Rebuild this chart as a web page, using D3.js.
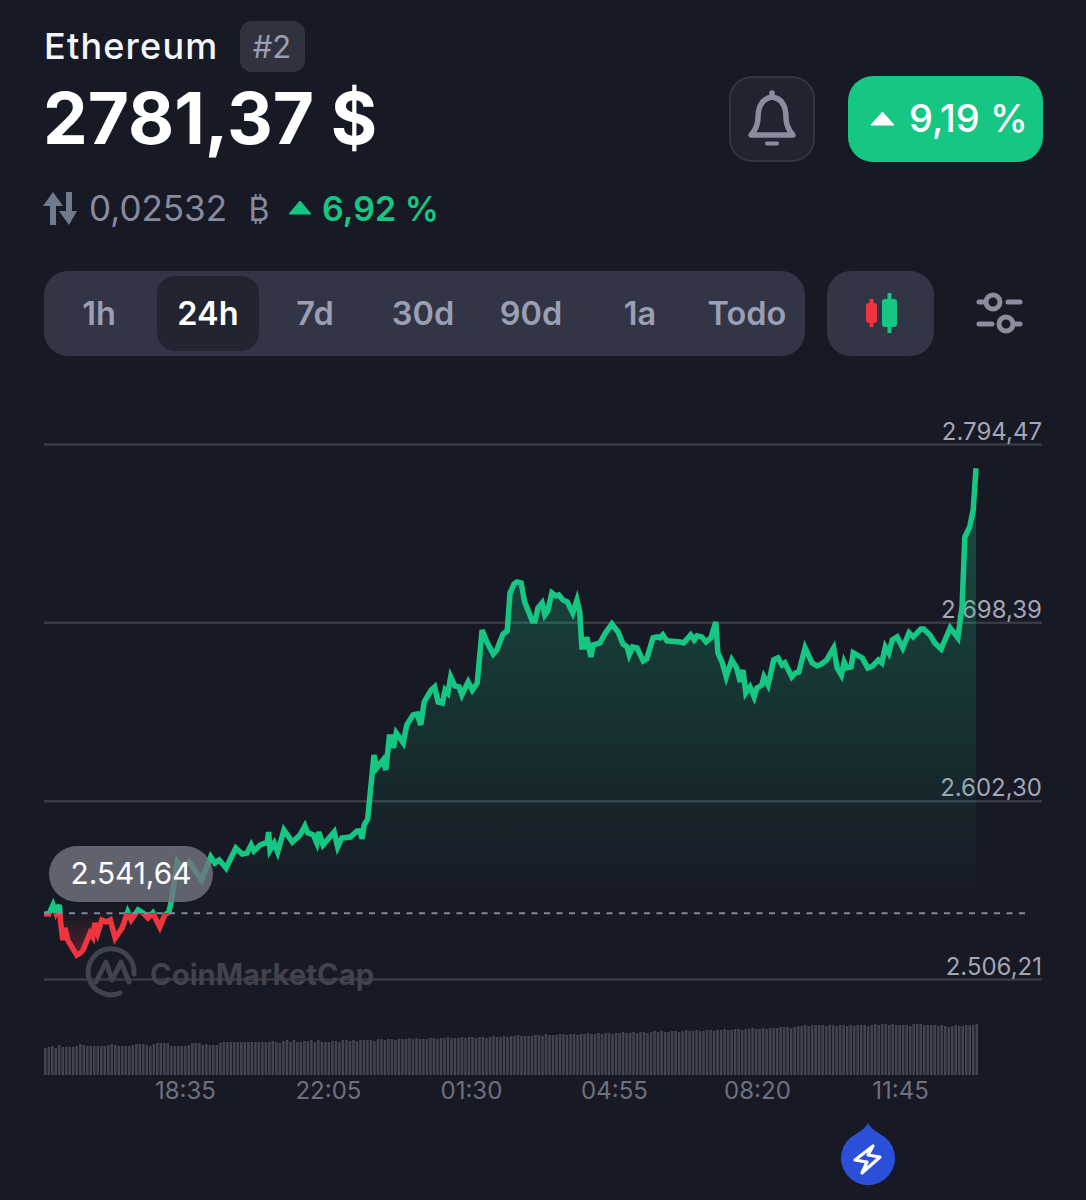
<!DOCTYPE html>
<html>
<head>
<meta charset="utf-8">
<script src="https://cdn.jsdelivr.net/npm/d3@7.9.0/dist/d3.min.js"></script>
<style>
  html, body { margin: 0; background: #171924; }
  svg { display: block; font-family: Inter, "Noto Sans", sans-serif; }
</style>
</head>
<body>
<svg id="chart" width="1086" height="1200"></svg>
<script>
// minutes since the start of the 24h window, and price at that moment
const lineMinutes = [0,7,13,17,22,24,27,30,34,40,47,52,56,66,70,73,77,83,89,95,102,112,120,125,135,142,149,156,166,173,179,182,191,198,208,226,239,245,251,261,275,284,291,297,301,310,320,322,324,330,335,344,356,367,374,378,386,391,394,400,416,421,427,439,449,453,456,459,464,473,477,486,490,495,499,501,505,515,520,529,535,540,545,555,560,565,571,575,579,583,589,595,599,608,614,621,628,635,644,649,658,664,668,674,678,684,689,700,704,708,714,718,722,728,734,738,744,750,758,764,768,771,777,778,784,787,797,804,814,823,830,836,839,844,850,859,864,873,879,883,887,893,912,917,927,932,936,943,949,956,963,966,972,978,986,993,998,1002,1006,1012,1018,1022,1029,1032,1038,1046,1052,1058,1062,1072,1077,1082,1091,1101,1108,1115,1122,1132,1137,1143,1147,1151,1157,1160,1173,1181,1188,1196,1201,1206,1211,1216,1223,1231,1240,1246,1257,1261,1270,1277,1286,1299,1310,1316,1320,1327,1332,1336];
const linePrices = [2541.2,2541.2,2546.1,2541.8,2546.1,2536.4,2527.2,2533.7,2527.2,2523.4,2519.1,2520.2,2521.8,2531.0,2528.8,2536.4,2531.0,2538.0,2536.9,2538.0,2528.3,2533.7,2542.3,2538.0,2543.4,2541.8,2539.1,2541.8,2534.2,2540.7,2542.3,2547.2,2569.3,2566.0,2569.3,2559.6,2572.0,2568.7,2570.3,2566.0,2576.8,2573.6,2574.1,2578.4,2575.2,2578.4,2580.0,2585.4,2575.7,2579.5,2574.6,2586.5,2580.0,2583.8,2588.7,2584.9,2583.8,2579.5,2585.4,2578.4,2585.4,2577.3,2582.2,2582.7,2586.0,2586.0,2581.7,2589.2,2592.4,2626.9,2619.9,2624.2,2618.8,2636.6,2636.6,2630.7,2638.8,2633.4,2643.1,2648.5,2649.0,2643.1,2655.5,2661.9,2663.6,2655.5,2654.9,2661.9,2660.3,2669.0,2664.1,2663.6,2659.3,2666.3,2661.9,2665.7,2694.3,2687.8,2681.3,2683.5,2692.1,2693.7,2714.2,2719.1,2720.1,2719.6,2709.4,2699.1,2699.1,2706.1,2708.8,2702.4,2704.5,2714.2,2712.6,2713.1,2710.4,2709.4,2703.4,2710.4,2704.0,2685.1,2685.1,2690.5,2679.7,2686.2,2687.3,2692.1,2697.5,2693.2,2686.7,2685.1,2680.8,2685.1,2684.6,2677.6,2678.7,2690.0,2690.5,2690.0,2691.6,2688.4,2687.8,2687.3,2691.6,2688.9,2691.1,2690.5,2687.8,2690.0,2698.6,2681.9,2677.0,2669.0,2678.1,2673.8,2666.3,2672.7,2660.3,2663.6,2658.2,2663.0,2664.6,2669.0,2664.6,2678.1,2679.2,2675.4,2676.5,2669.0,2671.1,2671.6,2684.6,2676.5,2674.9,2676.0,2678.1,2684.6,2673.8,2670.0,2677.0,2673.8,2674.3,2681.9,2679.2,2673.8,2674.9,2678.1,2676.5,2685.1,2681.9,2688.9,2690.5,2684.6,2692.7,2690.5,2694.8,2694.8,2691.6,2687.3,2684.0,2695.4,2690.0,2706.7,2744.4,2749.8,2759.0,2781.4];

// relative height of each 5 minute volume bar
const volumes = [
  27,28,29,27,30,28,28,28,28,29,31,30,29,29,29,29,29,29,30,31,
  30,29,29,29,29,30,31,31,31,30,29,31,32,32,32,32,29,29,29,29,
  29,30,32,32,32,30,31,30,30,30,32,33,33,33,33,33,33,33,33,33,
  33,33,33,33,33,34,33,32,34,35,33,35,33,33,34,34,35,33,35,33,
  33,33,34,34,33,35,35,34,35,34,35,35,35,35,34,36,36,35,36,36,
  35,36,36,36,37,36,37,36,36,36,37,37,36,37,37,38,37,37,37,38,
  37,38,38,37,38,38,37,38,39,38,38,39,38,39,39,40,39,39,39,39,
  40,40,39,41,40,40,40,41,41,40,41,41,40,41,41,42,41,41,42,41,
  42,42,41,42,42,43,42,42,43,42,43,43,42,43,44,43,44,43,43,44,
  44,43,44,45,44,44,45,44,44,45,45,44,45,45,46,45,45,46,46,45,
  46,46,47,46,46,47,46,47,47,47,48,48,48,47,48,49,49,50,49,50,
  50,50,50,49,50,50,49,50,50,49,50,49,50,50,50,49,50,51,50,51,
  51,50,51,50,50,50,50,49,51,51,51,50,50,50,50,49,50,49,48,49,
  50,49,49,50,50,50,51
];

const priceTicks = [2794.47, 2698.39, 2602.30, 2506.21];
const timeTicks = [202, 407, 612, 817, 1022, 1227];
const timeLabels = ['18:35', '22:05', '01:30', '04:55', '08:20', '11:45'];
const basePrice = 2541.64;

const ranges = ['1h', '24h', '7d', '30d', '90d', '1a', 'Todo'];
const rangeCenters = [99, 208, 315, 423, 531, 640, 747];
const selectedRange = '24h';

const green = '#16c784';
const red = '#ee3540';
const muted = '#9a9fb3';

const svg = d3.select('#chart');
const defs = svg.append('defs');

const locale = d3.formatLocale({ decimal: ',', thousands: '.', grouping: [3], currency: ['', '$'] });
const fmtPrice = locale.format(',.2f');

const x = d3.scaleLinear().domain([0, 1336]).range([44, 976]);
const y = d3.scaleLinear().domain([2506.21, 2794.47]).range([979, 444]);
const volX = d3.scaleBand().domain(d3.range(volumes.length)).range([44, 978]).paddingInner(0.28);
const volY = d3.scaleLinear().domain([0, 52]).range([1075, 1023]);

const points = lineMinutes.map((m, i) => ({ m, p: linePrices[i] }));

svg.append('rect').attr('width', 1086).attr('height', 1200).attr('fill', '#171924');

// header
svg.append('text').attr('x', 44).attr('y', 59).attr('font-size', 36).attr('font-weight', 500)
  .attr('letter-spacing', 1.2).attr('fill', '#f4f5f8').text('Ethereum');
svg.append('rect').attr('x', 240).attr('y', 21).attr('width', 65).attr('height', 51).attr('rx', 12).attr('fill', '#30333f');
svg.append('text').attr('x', 272).attr('y', 58).attr('text-anchor', 'middle').attr('font-size', 31).attr('fill', '#9a9fb3').text('#2');
svg.append('text').attr('x', 43).attr('y', 144).attr('font-size', 71).attr('font-weight', 700)
  .attr('fill', '#fff').text('2781,37 $');

// btc row
const arrows = svg.append('g').attr('fill', '#6f7a8c').attr('stroke', 'none');
arrows.append('path').attr('d', 'M53 192 L43 206 L50 206 L50 225 L56 225 L56 206 L63 206 Z');
arrows.append('path').attr('d', 'M66 192 L66 211 L59 211 L69 225 L77 211 L72 211 L72 192 Z');
svg.append('text').attr('x', 89).attr('y', 221).attr('font-size', 35).attr('fill', '#868b9f').text('0,02532');
svg.append('text').attr('x', 259).attr('y', 221).attr('text-anchor', 'middle').attr('font-size', 32).attr('fill', '#868b9f').text('₿');
svg.append('path').attr('d', 'M300 201 L311 214 L289 214 Z').attr('fill', green).attr('stroke', green).attr('stroke-width', 1).attr('stroke-linejoin', 'round');
svg.append('text').attr('x', 322).attr('y', 221).attr('font-size', 34).attr('font-weight', 600).attr('fill', green).text('6,92 %');

// bell button
svg.append('rect').attr('x', 730).attr('y', 77).attr('width', 84).attr('height', 84).attr('rx', 22)
  .attr('fill', '#212330').attr('stroke', '#32353f').attr('stroke-width', 2);
svg.append('path')
  .attr('d', 'M751 135 L793 135 Q786 127 786 118 Q786 99 772 97 Q758 99 758 118 Q758 127 751 135 Z M772 97 L772 93')
  .attr('fill', 'none').attr('stroke', '#8a8d9e').attr('stroke-width', 5.5).attr('stroke-linejoin', 'round').attr('stroke-linecap', 'round');
svg.append('line').attr('x1', 767).attr('x2', 777).attr('y1', 143.5).attr('y2', 143.5)
  .attr('stroke', '#8a8d9e').attr('stroke-width', 4).attr('stroke-linecap', 'round');

// change button
svg.append('rect').attr('x', 848).attr('y', 76).attr('width', 195).attr('height', 86).attr('rx', 25).attr('fill', green);
svg.append('path').attr('d', 'M882.5 112 L894 125 L871 125 Z').attr('fill', '#fff').attr('stroke', '#fff').attr('stroke-width', 1).attr('stroke-linejoin', 'round');
svg.append('text').attr('x', 909).attr('y', 132).attr('font-size', 38).attr('font-weight', 500).attr('fill', '#fff').text('9,19 %');

// range tabs
svg.append('rect').attr('x', 44).attr('y', 271).attr('width', 761).attr('height', 85).attr('rx', 24).attr('fill', '#323546');
svg.append('rect').attr('x', 157).attr('y', 276).attr('width', 102).attr('height', 75).attr('rx', 18).attr('fill', '#222531');
svg.selectAll('.range').data(ranges).join('text')
  .attr('class', 'range')
  .attr('x', (d, i) => rangeCenters[i])
  .attr('y', 325)
  .attr('text-anchor', 'middle')
  .attr('font-size', 32.5)
  .attr('font-weight', 600)
  .attr('fill', (d) => (d === selectedRange ? '#fff' : muted))
  .text((d) => d);

// candle toggle
svg.append('rect').attr('x', 827).attr('y', 271).attr('width', 107).attr('height', 85).attr('rx', 24).attr('fill', '#323546');
svg.append('rect').attr('x', 869.5).attr('y', 299).attr('width', 4).attr('height', 28).attr('fill', red);
svg.append('rect').attr('x', 866).attr('y', 303).attr('width', 11).attr('height', 20).attr('rx', 3).attr('fill', red);
svg.append('rect').attr('x', 887.5).attr('y', 293).attr('width', 4).attr('height', 40).attr('fill', green);
svg.append('rect').attr('x', 882).attr('y', 299).attr('width', 15).attr('height', 28).attr('rx', 3).attr('fill', green);

// settings icon
const sliders = svg.append('g').attr('fill', 'none').attr('stroke', '#8a8d9e').attr('stroke-width', 5).attr('stroke-linecap', 'round');
sliders.append('path').attr('d', 'M979 302 L985 302 M1008 302 L1020 302 M979 324 L992 324 M1016 324 L1020 324');
sliders.append('circle').attr('cx', 993).attr('cy', 302).attr('r', 7);
sliders.append('circle').attr('cx', 1006).attr('cy', 324).attr('r', 7);

// price axis with gridlines
const yAxis = svg.append('g').attr('transform', 'translate(44,0)')
  .call(d3.axisRight(y).tickValues(priceTicks).tickSize(998).tickFormat(fmtPrice));
yAxis.select('.domain').remove();
yAxis.selectAll('line').attr('stroke', '#383a46').attr('stroke-width', 2.5);
yAxis.selectAll('text')
  .attr('x', 998).attr('dy', -5).attr('text-anchor', 'end')
  .attr('font-family', 'Inter').attr('font-size', 24).attr('fill', '#a3a6b5');

// watermark
const mark = svg.append('g').attr('fill', 'none').attr('stroke', '#40424d').attr('stroke-width', 5).attr('stroke-linejoin', 'round').attr('stroke-linecap', 'round');
mark.append('path').attr('d', 'M134 974 A23 23 0 1 0 120 993');
mark.append('path').attr('d', 'M96 982 L106 962 L112 980 L121 962 L129 982');
svg.append('text').attr('x', 150).attr('y', 985).attr('font-size', 29.3).attr('font-weight', 700)
  .attr('fill', '#40424d').text('CoinMarketCap');

// area and line, split at the opening price
defs.append('clipPath').attr('id', 'above').append('rect')
  .attr('x', 0).attr('y', 0).attr('width', 1086).attr('height', y(basePrice));
defs.append('clipPath').attr('id', 'below').append('rect')
  .attr('x', 0).attr('y', y(basePrice)).attr('width', 1086).attr('height', 300);

const greenFade = defs.append('linearGradient').attr('id', 'greenFade')
  .attr('gradientUnits', 'userSpaceOnUse').attr('x1', 0).attr('x2', 0).attr('y1', y(2781.4)).attr('y2', y(basePrice) - 10);
greenFade.append('stop').attr('offset', 0).attr('stop-color', green).attr('stop-opacity', 0.32);
greenFade.append('stop').attr('offset', 1).attr('stop-color', green).attr('stop-opacity', 0);
const redFade = defs.append('linearGradient').attr('id', 'redFade')
  .attr('gradientUnits', 'userSpaceOnUse').attr('x1', 0).attr('x2', 0).attr('y1', y(basePrice)).attr('y2', y(2519.1));
redFade.append('stop').attr('offset', 0).attr('stop-color', red).attr('stop-opacity', 0);
redFade.append('stop').attr('offset', 1).attr('stop-color', red).attr('stop-opacity', 0.3);

const area = d3.area().x((d) => x(d.m)).y0(y(basePrice)).y1((d) => y(d.p));
const line = d3.line().x((d) => x(d.m)).y((d) => y(d.p));

svg.append('path').datum(points).attr('d', area).attr('fill', 'url(#greenFade)').attr('clip-path', 'url(#above)');
svg.append('path').datum(points).attr('d', area).attr('fill', 'url(#redFade)').attr('clip-path', 'url(#below)');
svg.append('path').datum(points).attr('d', line).attr('fill', 'none').attr('stroke', green).attr('stroke-width', 5.5).attr('clip-path', 'url(#above)');
svg.append('path').datum(points).attr('d', line).attr('fill', 'none').attr('stroke', red).attr('stroke-width', 5.5).attr('clip-path', 'url(#below)');

// opening price
svg.append('line').attr('x1', 44).attr('x2', 1030).attr('y1', y(basePrice)).attr('y2', y(basePrice))
  .attr('stroke', '#83889a').attr('stroke-width', 2).attr('stroke-dasharray', '6 6.5');

// volume bars
svg.selectAll('.vol').data(volumes).join('rect')
  .attr('class', 'vol')
  .attr('x', (d, i) => volX(i))
  .attr('width', volX.bandwidth())
  .attr('y', (d) => volY(d))
  .attr('height', (d) => volY(0) - volY(d))
  .attr('fill', '#42444f');

// time axis
const xAxis = svg.append('g').attr('transform', 'translate(0,1075)')
  .call(d3.axisBottom(x).tickValues(timeTicks).tickSize(0).tickFormat((d, i) => timeLabels[i]));
xAxis.select('.domain').remove();
xAxis.selectAll('text')
  .attr('y', 24).attr('dy', 0)
  .attr('font-family', 'Inter').attr('font-size', 24).attr('fill', '#6d7080');

// lightning button
svg.append('path')
  .attr('d', 'M868 1123 Q871 1129 880 1134 A27 27 0 1 1 856 1134 Q865 1129 868 1123 Z')
  .attr('fill', '#2b4fd8');
svg.append('path')
  .attr('d', 'M873 1146 L855 1160 L867 1162 L862 1173 L880 1157 L868 1155 Z')
  .attr('fill', 'none').attr('stroke', '#fff').attr('stroke-width', 3.2).attr('stroke-linejoin', 'round');

// tooltip pill sits over the line
svg.append('rect').attr('x', 49).attr('y', 846).attr('width', 164).attr('height', 56).attr('rx', 28)
  .attr('fill', '#70737f').attr('fill-opacity', 0.82);
svg.append('text').attr('x', 131).attr('y', 884).attr('text-anchor', 'middle')
  .attr('font-size', 29.8).attr('fill', '#fff').text(fmtPrice(basePrice));
</script>
</body>
</html>
